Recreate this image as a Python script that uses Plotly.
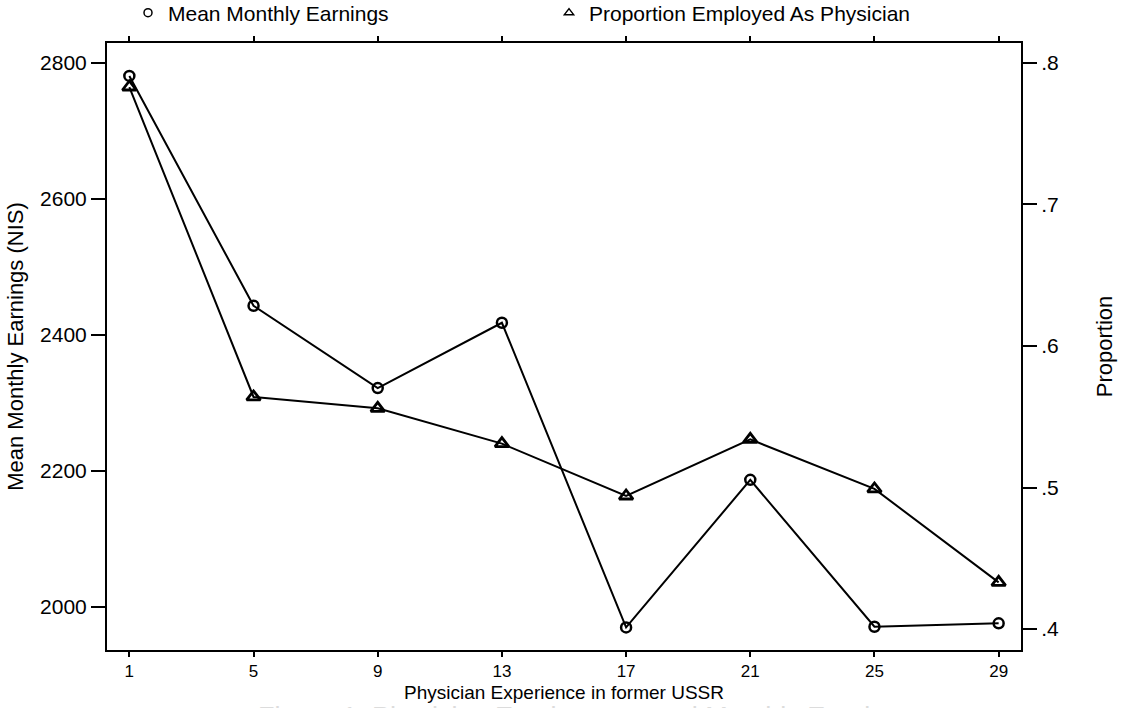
import plotly.graph_objects as go

experience = [1, 5, 9, 13, 17, 21, 25, 29]
earnings = [2781, 2443, 2322, 2418, 1970, 2187, 1971, 1976]
proportion = [0.783, 0.564, 0.556, 0.531, 0.494, 0.534, 0.499, 0.433]

left_ticks = [2000, 2200, 2400, 2600, 2800]
right_ticks = [0.4, 0.5, 0.6, 0.7, 0.8]
right_labels = [".4", ".5", ".6", ".7", ".8"]

FONT = "Liberation Sans"
W, H = 1122, 708
ML, MR, MT, MB = 107, 101, 43, 58
PH = H - MT - MB
PW = W - ML - MR

fig = go.Figure()
fig.add_trace(go.Scatter(
    x=experience, y=earnings, mode="lines+markers", yaxis="y",
    line=dict(color="black", width=2),
    marker=dict(symbol="circle-open", size=10, color="black", line=dict(width=2.5)),
    showlegend=False,
))
fig.add_trace(go.Scatter(
    x=experience, y=proportion, mode="lines+markers", yaxis="y2",
    line=dict(color="black", width=2),
    marker=dict(symbol="triangle-up-open", size=12, color="black", line=dict(width=2.8)),
    showlegend=False,
))
# legend entries (marker symbol only, as in the reference)
fig.add_trace(go.Scatter(
    x=[None], y=[None], mode="markers", name="Mean Monthly Earnings",
    marker=dict(symbol="circle-open", size=8, color="black", line=dict(width=1.5)),
))
fig.add_trace(go.Scatter(
    x=[None], y=[None], mode="markers", name="Proportion Employed As Physician",
    marker=dict(symbol="triangle-up-open", size=8, color="black", line=dict(width=1.5)),
))

axis_common = dict(showgrid=False, zeroline=False, showline=True, linecolor="black",
                   linewidth=2, ticks="outside", tickcolor="black", tickwidth=2)

fig.update_layout(
    width=W, height=H,
    margin=dict(l=ML, r=MR, t=MT, b=MB, autoexpand=False),
    paper_bgcolor="white", plot_bgcolor="white",
    font=dict(family=FONT, color="black"),
    xaxis=dict(**axis_common, range=[0.28, 29.72], tickvals=experience,
               ticklen=5, mirror="ticks",
               tickfont=dict(family=FONT, size=17, color="black")),
    yaxis=dict(**axis_common, range=[1936.8, 2829.4], tickvals=left_ticks,
               ticklen=14, tickfont=dict(family=FONT, size=21, color="black"),
               title=dict(text="Mean Monthly Earnings (NIS)",
                          font=dict(family=FONT, size=22), standoff=10)),
    yaxis2=dict(**axis_common, range=[0.3852, 0.8141], tickvals=right_ticks,
                ticktext=right_labels, overlaying="y", side="right",
                ticklen=14, tickfont=dict(family=FONT, size=21, color="black"),
                title=dict(text="Proportion", font=dict(family=FONT, size=22),
                           standoff=39)),
    legend=dict(orientation="h", x=(128 - ML) / PW, xanchor="left",
                y=1 + (MT - 13) / PH, yanchor="middle",
                font=dict(family=FONT, size=21, color="black"),
                entrywidth=376, entrywidthmode="pixels",
                itemwidth=30, bgcolor="rgba(0,0,0,0)"),
    annotations=[
        dict(text="Physician Experience in former USSR",
             xref="paper", yref="paper", x=0.5, y=-(693 - (H - MB)) / PH,
             xanchor="center", yanchor="middle", showarrow=False, borderpad=0,
             font=dict(family=FONT, size=19, color="black")),
        dict(text="Figure 1: Physician Employment and Monthly Earnings",
             xref="paper", yref="paper", x=(586 - ML) / PW,
             y=-(701 - (H - MB)) / PH,
             xanchor="center", yanchor="top", showarrow=False, borderpad=0,
             font=dict(family=FONT, size=27, color="#dcdcdc")),
    ],
)

fig.write_html("out.html")
